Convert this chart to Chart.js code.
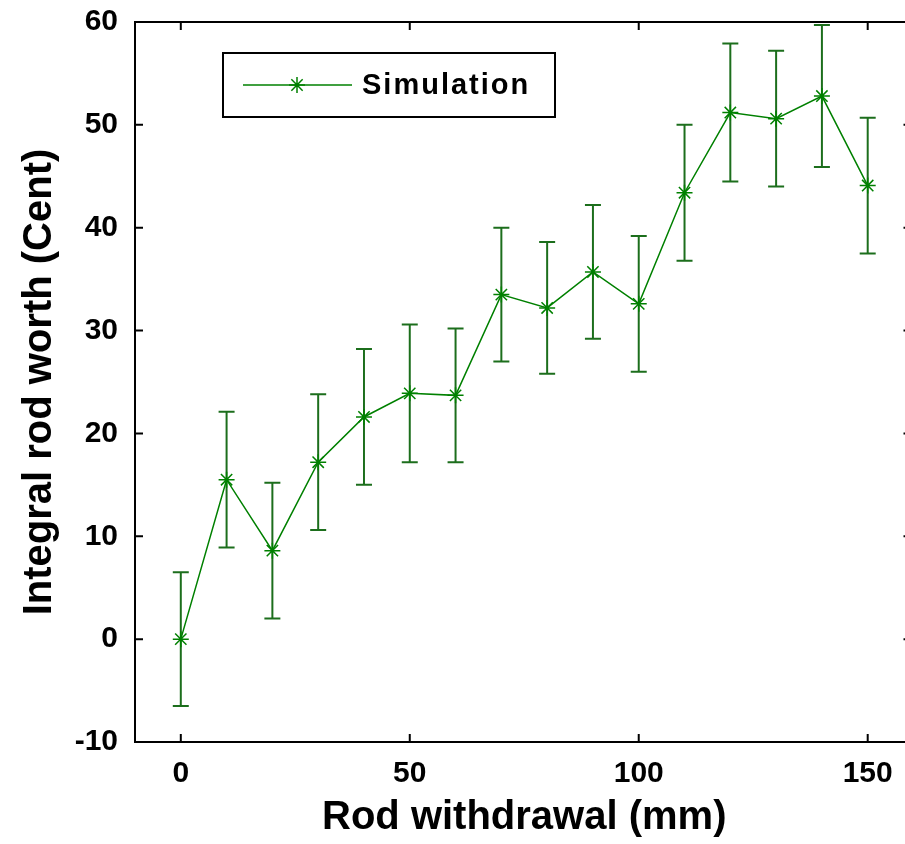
<!DOCTYPE html>
<html>
<head>
<meta charset="utf-8">
<script src="https://cdn.jsdelivr.net/npm/chart.js@4.4.1/dist/chart.umd.min.js"></script>
<style>
  html, body { margin: 0; padding: 0; background: #fff; overflow: hidden; }
  /* the source figure is cut off on the right, so the chart runs past the window */
  #box { position: absolute; left: 0; top: 0; width: 923px; height: 844px; }
</style>
</head>
<body>
<div id="box"><canvas id="chart"></canvas></div>
<script>
// rod withdrawal positions (mm)
const withdrawal = [0, 10, 20, 30, 40, 50, 60, 70, 80, 90, 100, 110, 120, 130, 140, 150];
// integral rod worth (cent)
const rodWorth = [0, 15.5, 8.6, 17.2, 21.6, 23.9, 23.7, 33.5, 32.2, 35.7, 32.6, 43.4, 51.2, 50.6, 52.8, 44.1];
// half-length of error bars
const rodWorthErr = [6.5, 6.6, 6.6, 6.6, 6.6, 6.7, 6.5, 6.5, 6.4, 6.5, 6.6, 6.6, 6.7, 6.6, 6.9, 6.6];
const xTickValues = [0, 50, 100, 150];
const seriesName = 'Simulation';

const green = 'rgb(0,128,0)';
const barGreen = 'rgb(28,110,28)';
const fontFamily = '"Liberation Sans", Arial, sans-serif';

// error bars, drawn with the chart's own scales
const errorBars = {
  id: 'errorBars',
  beforeDatasetsDraw(chart) {
    const { ctx, chartArea, scales: { x, y } } = chart;
    ctx.save();
    ctx.beginPath();
    ctx.rect(chartArea.left, chartArea.top, chartArea.right - chartArea.left, chartArea.bottom - chartArea.top);
    ctx.clip();
    ctx.strokeStyle = barGreen;
    ctx.lineWidth = 2;
    withdrawal.forEach((w, i) => {
      const px = x.getPixelForValue(w);
      const top = y.getPixelForValue(rodWorth[i] + rodWorthErr[i]);
      const bot = y.getPixelForValue(rodWorth[i] - rodWorthErr[i]);
      ctx.beginPath();
      ctx.moveTo(px, top); ctx.lineTo(px, bot);
      ctx.moveTo(px - 8, top); ctx.lineTo(px + 8, top);
      ctx.moveTo(px - 8, bot); ctx.lineTo(px + 8, bot);
      ctx.stroke();
    });
    ctx.restore();
  }
};

// box around the plot with inward ticks on every side, plus the legend
const frame = {
  id: 'frame',
  afterDraw(chart) {
    const { ctx, chartArea: a, scales: { x, y } } = chart;
    ctx.save();
    ctx.strokeStyle = '#000';
    ctx.lineWidth = 2;
    ctx.strokeRect(a.left, a.top, a.right - a.left, a.bottom - a.top);
    ctx.beginPath();
    x.ticks.forEach(t => {
      const px = x.getPixelForValue(t.value);
      ctx.moveTo(px, a.bottom); ctx.lineTo(px, a.bottom - 8);
      ctx.moveTo(px, a.top); ctx.lineTo(px, a.top + 8);
    });
    y.ticks.forEach(t => {
      const py = y.getPixelForValue(t.value);
      ctx.moveTo(a.left, py); ctx.lineTo(a.left + 8, py);
      ctx.moveTo(a.right, py); ctx.lineTo(a.right - 10, py);
    });
    ctx.stroke();

    // legend box
    const lx = 223, ly = 53, lw = 332, lh = 64;
    ctx.fillStyle = '#fff';
    ctx.fillRect(lx, ly, lw, lh);
    ctx.strokeRect(lx, ly, lw, lh);
    const cy = ly + lh / 2;
    ctx.strokeStyle = green;
    ctx.lineWidth = 1.5;
    ctx.beginPath();
    ctx.moveTo(243, cy); ctx.lineTo(352, cy);
    ctx.stroke();
    Chart.helpers.drawPoint(ctx, { pointStyle: 'star', radius: 8, borderWidth: 1.5 }, 297, cy);
    ctx.fillStyle = '#000';
    ctx.font = 'bold 29px ' + fontFamily;
    ctx.letterSpacing = '2px';
    ctx.textBaseline = 'middle';
    ctx.fillText(seriesName, 362, cy + 1);
    ctx.restore();
  }
};

const ctx = document.getElementById('chart').getContext('2d');
new Chart(ctx, {
  type: 'line',
  data: {
    datasets: [{
      label: seriesName,
      data: withdrawal.map((w, i) => ({ x: w, y: rodWorth[i] })),
      borderColor: green,
      backgroundColor: green,
      borderWidth: 1.5,
      pointStyle: 'star',
      pointRadius: 8,
      pointBorderWidth: 1.5,
      pointBorderColor: green,
      fill: false,
      tension: 0
    }]
  },
  options: {
    responsive: true,
    maintainAspectRatio: false,
    animation: false,
    layout: { padding: { top: 22, right: 0, bottom: 0, left: 0 } },
    plugins: {
      legend: { display: false },
      tooltip: { enabled: false }
    },
    scales: {
      x: {
        type: 'linear',
        min: -10,
        max: 160,
        afterBuildTicks: scale => { scale.ticks = xTickValues.map(v => ({ value: v })); },
        afterFit: scale => { scale.height = 102; scale.paddingLeft = 0; scale.paddingRight = 0; },
        grid: { display: false, drawTicks: false },
        border: { display: false },
        ticks: {
          color: '#000',
          padding: 14,
          maxRotation: 0,
          font: { family: fontFamily, size: 30, weight: 'bold' }
        },
        title: {
          display: true,
          text: 'Rod withdrawal (mm)',
          color: '#000',
          padding: { top: 2, bottom: 2 },
          font: { family: fontFamily, size: 40, weight: 'bold' }
        }
      },
      y: {
        min: -10,
        max: 60,
        afterFit: scale => { scale.width = 135; scale.paddingTop = 0; scale.paddingBottom = 0; },
        grid: { display: false, drawTicks: false },
        border: { display: false },
        ticks: {
          stepSize: 10,
          color: '#000',
          padding: 17,
          font: { family: fontFamily, size: 30, weight: 'bold' }
        },
        title: {
          display: true,
          text: 'Integral rod worth (Cent)',
          color: '#000',
          padding: { top: 16, bottom: 0 },
          font: { family: fontFamily, size: 40, weight: 'bold' }
        }
      }
    }
  },
  plugins: [errorBars, frame]
});
</script>
</body>
</html>
